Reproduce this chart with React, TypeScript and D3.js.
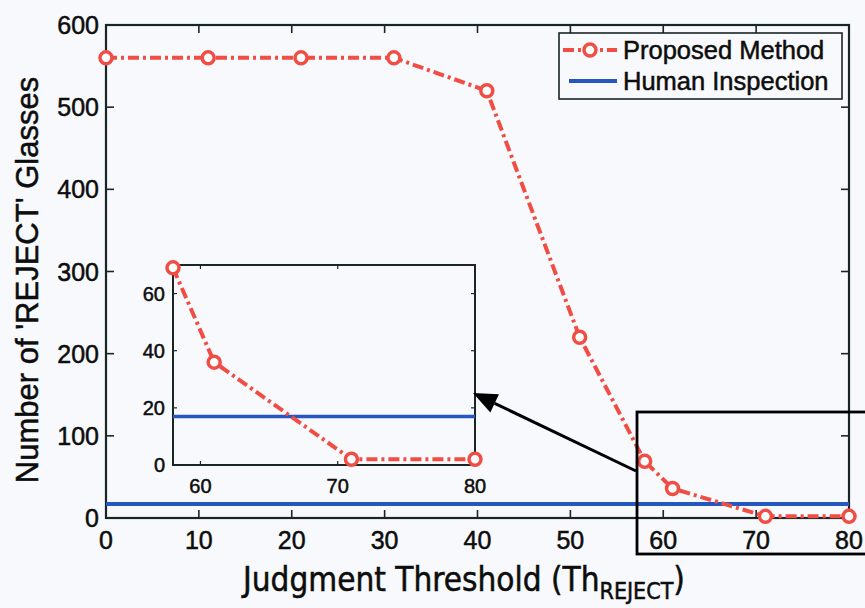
import React from "react";
import * as d3 from "d3";

const thresholds = [0, 11, 21, 31, 41, 51, 58, 61, 71, 80];
const rejects = [560, 560, 560, 560, 520, 220, 69, 36, 2, 2];
const humanInspection = 17;
const xTicks = [0, 10, 20, 30, 40, 50, 60, 70, 80];
const yTicks = [0, 100, 200, 300, 400, 500, 600];
const insetXTicks = [60, 70, 80];
const insetYTicks = [0, 20, 40, 60];
const seriesNames = ["Proposed Method", "Human Inspection"];

const W = 865, H = 608;
const BG = "#f8f9fc";
const RED = "#f04e45";
const BLUE = "#2458c0";
const AX = "#1a2626";
const TXT = "#0d0d0d";
const DASH = "11,4,3,4";
const FONT = "'Liberation Sans', Arial, sans-serif";

export default function App() {
  const x = d3.scaleLinear().domain([0, 80]).range([106, 849]);
  const y = d3.scaleLinear().domain([0, 600]).range([518, 25]);
  const xi = d3.scaleLinear().domain([58, 80]).range([173, 475]);
  const yi = d3.scaleLinear().domain([0, 70]).range([465, 265]);

  const pts = thresholds.map((t, i) => ({ t, v: rejects[i] }));
  const insetPts = pts.filter((p) => p.t >= 58);
  const line = d3.line<{ t: number; v: number }>().x((d) => x(d.t)).y((d) => y(d.v));
  const lineI = d3.line<{ t: number; v: number }>().x((d) => xi(d.t)).y((d) => yi(d.v));

  // arrow
  const ax0 = 636, ay0 = 471, ax1 = 473, ay1 = 393;
  const ang = Math.atan2(ay1 - ay0, ax1 - ax0);
  const hl = 24, hw = 10;
  const bx = ax1 - hl * Math.cos(ang), by = ay1 - hl * Math.sin(ang);
  const head = `${ax1},${ay1} ${bx + hw * Math.sin(ang)},${by - hw * Math.cos(ang)} ${bx - hw * Math.sin(ang)},${by + hw * Math.cos(ang)}`;

  const [x0, x1] = x.range();
  const [y0, y1] = y.range();
  const [xi0, xi1] = xi.range();
  const [yi0, yi1] = yi.range();

  const txtStyle = { stroke: TXT, strokeWidth: 0.5 } as const;

  return (
    <svg width={W} height={H} style={{ position: "absolute", left: 0, top: 0, background: BG }} fontFamily={FONT}>
      <rect x={0} y={0} width={W} height={H} fill={BG} />
      {/* main axes box */}
      <rect x={x0} y={y1} width={x1 - x0} height={y0 - y1} fill={BG} stroke={AX} strokeWidth={2.2} />
      {xTicks.map((t) => (
        <g key={"xt" + t}>
          <line x1={x(t)} x2={x(t)} y1={y0} y2={y0 - 8} stroke={AX} strokeWidth={1.6} />
          <line x1={x(t)} x2={x(t)} y1={y1} y2={y1 + 8} stroke={AX} strokeWidth={1.6} />
          <text x={x(t)} y={549} fontSize={25} textAnchor="middle" fill={TXT} {...txtStyle}>{t}</text>
        </g>
      ))}
      {yTicks.map((t) => (
        <g key={"yt" + t}>
          <line x1={x0} x2={x0 + 8} y1={y(t)} y2={y(t)} stroke={AX} strokeWidth={1.6} />
          <line x1={x1} x2={x1 - 8} y1={y(t)} y2={y(t)} stroke={AX} strokeWidth={1.6} />
          <text x={99} y={y(t) + 9} fontSize={25} textAnchor="end" fill={TXT} {...txtStyle}>{t}</text>
        </g>
      ))}
      {/* human inspection */}
      <line x1={x0} x2={x1} y1={y(humanInspection)} y2={y(humanInspection)} stroke={BLUE} strokeWidth={4} />
      {/* proposed */}
      <path d={line(pts) || ""} fill="none" stroke={RED} strokeWidth={4} strokeDasharray={DASH} />
      {pts.map((p, i) => (
        <circle key={"c" + i} cx={x(p.t)} cy={y(p.v)} r={6} fill="#fff" stroke={RED} strokeWidth={3.5} />
      ))}

      {/* inset */}
      <rect x={xi0} y={yi1} width={xi1 - xi0} height={yi0 - yi1} fill={BG} stroke={AX} strokeWidth={2} />
      {insetXTicks.map((t) => (
        <g key={"ixt" + t}>
          <line x1={xi(t)} x2={xi(t)} y1={yi0} y2={yi0 - 4} stroke={AX} strokeWidth={1.2} />
          <line x1={xi(t)} x2={xi(t)} y1={yi1} y2={yi1 + 4} stroke={AX} strokeWidth={1.2} />
          <text x={xi(t)} y={493} fontSize={20} textAnchor="middle" fill={TXT} {...txtStyle}>{t}</text>
        </g>
      ))}
      {insetYTicks.map((t) => (
        <g key={"iyt" + t}>
          <line x1={xi0} x2={xi0 + 4} y1={yi(t)} y2={yi(t)} stroke={AX} strokeWidth={1.2} />
          <line x1={xi1} x2={xi1 - 4} y1={yi(t)} y2={yi(t)} stroke={AX} strokeWidth={1.2} />
          <text x={165} y={yi(t) + 7} fontSize={20} textAnchor="end" fill={TXT} {...txtStyle}>{t}</text>
        </g>
      ))}
      <line x1={xi0} x2={xi1} y1={yi(humanInspection)} y2={yi(humanInspection)} stroke={BLUE} strokeWidth={3.5} />
      <path d={lineI(insetPts) || ""} fill="none" stroke={RED} strokeWidth={4} strokeDasharray={DASH} />
      {insetPts.map((p, i) => (
        <circle key={"ic" + i} cx={xi(p.t)} cy={yi(p.v)} r={6} fill="#fff" stroke={RED} strokeWidth={3.5} />
      ))}

      {/* zoom box and arrow */}
      <rect x={637} y={412} width={260} height={142} fill="none" stroke="#000" strokeWidth={2.8} />
      <line x1={ax0} y1={ay0} x2={bx} y2={by} stroke="#000" strokeWidth={3} />
      <polygon points={head} fill="#000" />

      {/* legend */}
      <rect x={559} y={33} width={283} height={66} fill={BG} stroke={AX} strokeWidth={1.6} />
      <line x1={563} x2={617} y1={50} y2={50} stroke={RED} strokeWidth={4} strokeDasharray={DASH} />
      <circle cx={590} cy={50} r={6} fill="#fff" stroke={RED} strokeWidth={3.5} />
      <text x={623} y={59} fontSize={25.5} fill={TXT} {...txtStyle}>{seriesNames[0]}</text>
      <line x1={569} x2={617} y1={81} y2={81} stroke={BLUE} strokeWidth={4} />
      <text x={623} y={90} fontSize={25.5} fill={TXT} {...txtStyle}>{seriesNames[1]}</text>

      {/* axis labels */}
      <text transform="translate(38,280) rotate(-90)" fontSize={31} textAnchor="middle" fill={TXT} {...txtStyle}>
        Number of 'REJECT' Glasses
      </text>
      <text x={243} y={591} fontSize={33} fill={TXT} {...txtStyle} fontFamily="'DejaVu Sans Condensed', 'DejaVu Sans', sans-serif">
        Judgment Threshold (Th
        <tspan dy={8} fontSize={23}>REJECT</tspan>
        <tspan dy={-8}>)</tspan>
      </text>
    </svg>
  );
}
